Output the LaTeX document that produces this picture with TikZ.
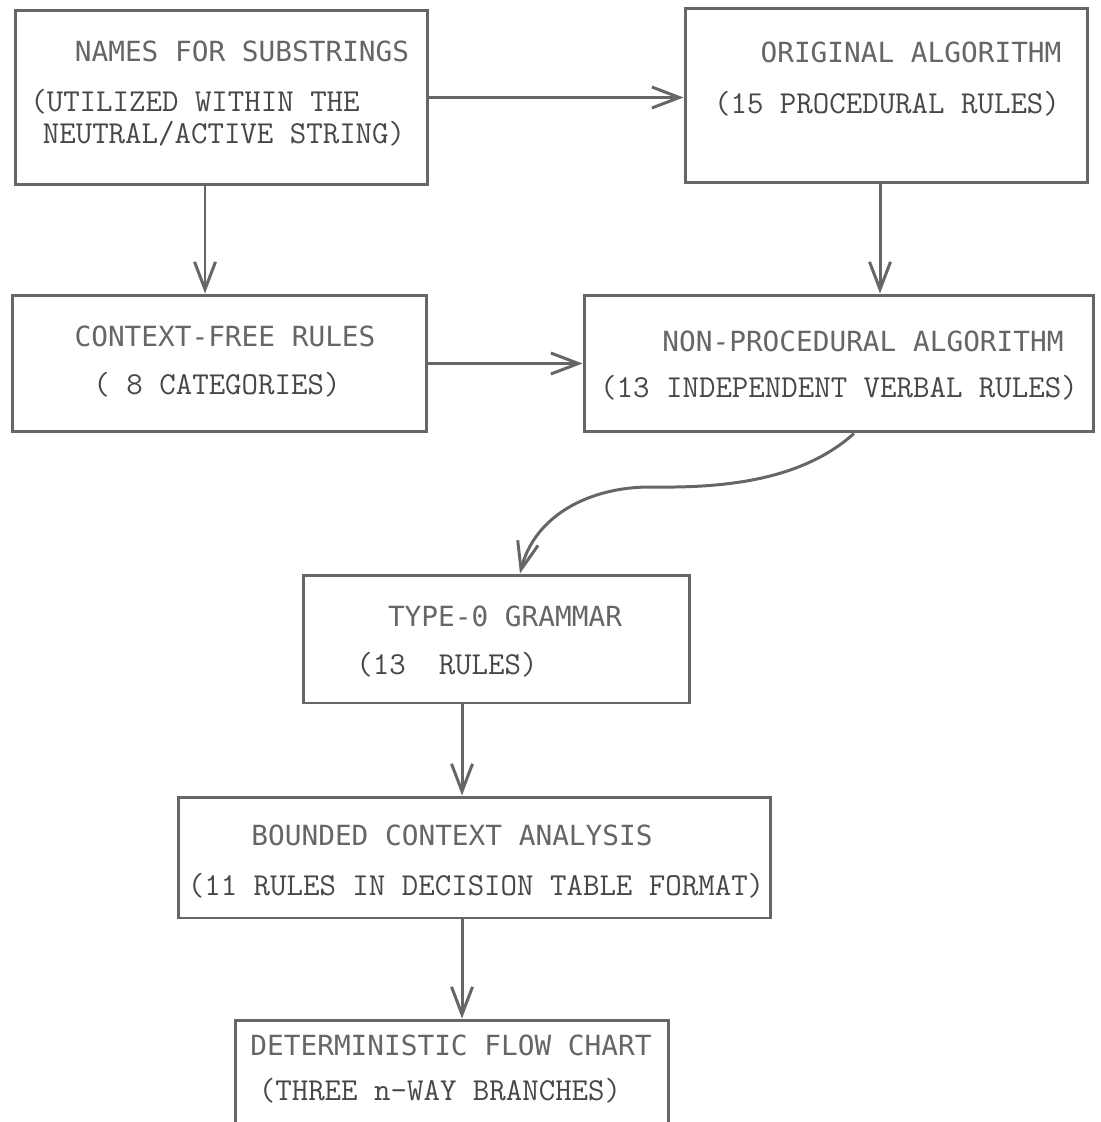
\documentclass[tikz,border=0pt]{standalone}
\usepackage{fontspec}
\usepackage{tikz}
\usetikzlibrary{arrows.meta}
\newfontfamily\titlefont{DejaVu Sans Mono}
\newfontfamily\rulefont{Latin Modern Mono}
\definecolor{ink}{HTML}{666666}

\begin{document}
\begin{tikzpicture}[x=0.02cm,y=-0.02cm]
		\tikzset{
			box/.style = {draw=ink, line width=1.7pt, inner sep=0pt},
			boxtitle/.style = {anchor=base, text=ink, font=\titlefont\fontsize{15.8}{18}\selectfont},
			boxrules/.style = {anchor=base, text=ink!70!black, font=\rulefont\fontsize{18.2}{20}\selectfont},
			flowarrow/.style = {draw=ink, line width=1.7pt, -{Straight Barb[length=0.55cm,width=0.42cm]}}
		}
		\clip (0,0) rectangle (1101,1122);
		\fill [white] (0,0) rectangle (1101,1122);
		% boxes
		\node [box, minimum width=8.26cm, minimum height=3.5cm] (names) at (221.5,97.5) {};
		\node [box, minimum width=8.06cm, minimum height=3.5cm] (orig) at (886.5,95.5) {};
		\node [box, minimum width=8.3cm, minimum height=2.74cm] (cfr) at (219.5,363.5) {};
		\node [box, minimum width=10.2cm, minimum height=2.74cm] (nonproc) at (839,363.5) {};
		\node [box, minimum width=7.74cm, minimum height=2.56cm] (type0) at (496.5,639) {};
		\node [box, minimum width=11.86cm, minimum height=2.42cm] (bounded) at (474.5,857.5) {};
		\node [box, minimum width=8.68cm, minimum height=2.6cm] (flow) at (452,1085) {};
		% texts
		\node [boxtitle] (namest) at (242,62) {NAMES FOR SUBSTRINGS};
		\node [boxrules] (namesa) at (195,112) {(UTILIZED WITHIN THE};
		\node [boxrules] (namesb) at (224,143) {NEUTRAL/ACTIVE STRING)};
		\node [boxtitle] (origt) at (911,63) {ORIGINAL ALGORITHM};
		\node [boxrules] (origa) at (887,113) {(15 PROCEDURAL RULES)};
		\node [boxtitle] (cfrt) at (225,346) {CONTEXT-FREE RULES};
		\node [boxrules] (cfra) at (217,394) {(~8 CATEGORIES)};
		\node [boxtitle] (nonproct) at (863,351) {NON-PROCEDURAL ALGORITHM};
		\node [boxrules] (nonproca) at (839,397) {(13 INDEPENDENT VERBAL RULES)};
		\node [boxtitle] (type0t) at (505,626) {TYPE-0 GRAMMAR};
		\node [boxrules] (type0a) at (447,674) {(13~~RULES)};
		\node [boxtitle] (boundedt) at (452,845) {BOUNDED CONTEXT ANALYSIS};
		\node [boxrules] (boundeda) at (476,895) {(11 RULES IN DECISION TABLE FORMAT)};
		\node [boxtitle] (flowt) at (451,1055) {DETERMINISTIC FLOW CHART};
		\node [boxrules] (flowa) at (440,1100) {(THREE n-WAY BRANCHES)};
		% connectors
		\draw [flowarrow] (names.east) -- (names.east -| orig.west);
		\draw [flowarrow] ([xshift=-0.33cm]names.south) -- ([xshift=-0.33cm]names.south |- cfr.north);
		\draw [flowarrow] ([xshift=-0.13cm]orig.south) -- ([xshift=-0.13cm]orig.south |- nonproc.north);
		\draw [flowarrow] (cfr.east) -- (nonproc.west);
		\draw [flowarrow] ([xshift=0.3cm]nonproc.south) .. controls (800,482) and (720,488) .. (650,487)
			.. controls (590,487) and (535,515) .. ([xshift=0.47cm]type0.north);
		\draw [flowarrow] ([xshift=-0.69cm]type0.south) -- ([xshift=-0.69cm]type0.south |- bounded.north);
		\draw [flowarrow] ([xshift=-0.25cm]bounded.south) -- ([xshift=-0.25cm]bounded.south |- flow.north);
\end{tikzpicture}
\end{document}
